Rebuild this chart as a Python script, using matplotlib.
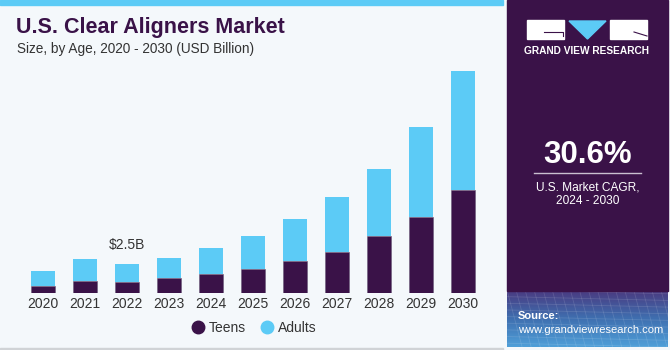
import matplotlib
matplotlib.use("Agg")
import matplotlib.pyplot as plt
from matplotlib.patches import Rectangle, Polygon
from matplotlib.colors import LinearSegmentedColormap
import numpy as np

plt.rcParams['font.family'] = ['Liberation Sans', 'DejaVu Sans']

years = ['2020', '2021', '2022', '2023', '2024', '2025', '2026', '2027', '2028', '2029', '2030']
teens = [0.65, 1.03, 0.95, 1.29, 1.64, 2.09, 2.78, 3.56, 4.94, 6.60, 8.90]
adults = [1.25, 1.90, 1.55, 1.78, 2.26, 2.85, 3.60, 4.72, 5.80, 7.71, 10.26]
label_year = '2022'
label_text = '$2.5B'

PURPLE = '#3a1248'
BLUE = '#5ccbf6'
BG = '#f4f8fb'
W, H = 670, 350


def fx(px):
    return px / W


def fy(py):
    return 1 - py / H


fig = plt.figure(figsize=(6.7, 3.5), dpi=100)
fig.patch.set_facecolor(BG)

# top accent line + bottom border of the left panel
fig.patches.append(Rectangle((0, fy(5)), fx(503), 5 / H, transform=fig.transFigure,
                             color=BLUE, zorder=0))
fig.patches.append(Rectangle((0, 0), fx(503), 2 / H, transform=fig.transFigure,
                             color='#d0d3d6', zorder=0))

# right panel
fig.patches.append(Rectangle((fx(507), fy(291)), fx(161), 291 / H,
                             transform=fig.transFigure, color=PURPLE, zorder=0))

# source area gradient with a faint grid
src = fig.add_axes([fx(507), fy(347), fx(161), (347 - 290) / H])
grad = np.linspace(0, 1, 60)[:, None] * np.ones((1, 160))
cmap = LinearSegmentedColormap.from_list('src', ['#4a3a80', '#3f6fb0', '#4f9fd8'])
src.imshow(grad, aspect='auto', cmap=cmap, extent=[0, 160, 60, 0])
for gx in np.arange(0, 170, 9):
    src.plot([gx, gx + 15], [0, 60], color='white', alpha=0.12, lw=0.6)
for gy in np.arange(0, 60, 7):
    src.plot([0, 160], [gy, gy + 4], color='white', alpha=0.12, lw=0.6)
src.set_xlim(0, 160)
src.set_ylim(60, 0)
src.axis('off')

# logo
fig.patches.append(Rectangle((fx(527), fy(39)), fx(37), 19 / H, transform=fig.transFigure,
                             color='white', zorder=2))
fig.patches.append(Rectangle((fx(610), fy(39)), fx(37), 19 / H, transform=fig.transFigure,
                             color='white', zorder=2))
fig.patches.append(Polygon([(fx(569), fy(21)), (fx(606), fy(21)), (fx(587.5), fy(39))],
                           closed=True, transform=fig.transFigure, color=BLUE, zorder=2))
fig.lines.append(plt.Line2D([fx(544), fx(563), fx(563)], [fy(32), fy(32), fy(36)],
                            transform=fig.transFigure, color=PURPLE, lw=0.8, zorder=3))
fig.lines.append(plt.Line2D([fx(634), fx(647)], [fy(32), fy(36)],
                            transform=fig.transFigure, color=PURPLE, lw=0.8, zorder=3))
fig.text(fx(587), fy(51), 'GRAND VIEW RESEARCH', color='white', fontsize=7.3,
         fontweight='bold', ha='center', va='center')

# CAGR
fig.text(fx(588), fy(155), '30.6%', color='white', fontsize=22.5, fontweight='bold',
         ha='center', va='center')
fig.lines.append(plt.Line2D([fx(534), fx(641)], [fy(173), fy(173)],
                            transform=fig.transFigure, color='#c9bfd0', lw=1))
fig.text(fx(588), fy(187), 'U.S. Market CAGR,', color='white', fontsize=8.6,
         ha='center', va='center')
fig.text(fx(588), fy(201), '2024 - 2030', color='white', fontsize=8.6,
         ha='center', va='center')

fig.text(fx(518), fy(316), 'Source:', color='white', fontsize=8, fontweight='bold',
         ha='left', va='center')
fig.text(fx(518), fy(330), 'www.grandviewresearch.com', color='white', fontsize=8,
         ha='left', va='center')

# titles
fig.text(fx(16), fy(28), 'U.S. Clear Aligners Market', color=PURPLE, fontsize=15.5,
         fontweight='bold', ha='left', va='center')
fig.text(fx(17), fy(49), 'Size, by Age, 2020 - 2030 (USD Billion)', color='#333333',
         fontsize=9.8, ha='left', va='center')

# bar chart
ymax = 20.0
ax = fig.add_axes([fx(21.7), fy(293.3), fx(462), (ymax / 0.0862) / H])
ax.set_facecolor('none')
x = np.arange(len(years))
ax.bar(x, teens, width=0.57, color=PURPLE, edgecolor='#6a5a78', linewidth=0.4,
       label='Teens', zorder=2)
ax.bar(x, adults, width=0.57, bottom=teens, color=BLUE, label='Adults', zorder=2)
ax.set_xlim(-0.5, len(years) - 0.5)
ax.set_ylim(0, ymax)
ax.set_xticks(x)
ax.set_xticklabels(years, fontsize=10, color='#333333')
ax.tick_params(axis='x', length=0, pad=3)
ax.set_yticks([])
for s in ax.spines.values():
    s.set_visible(False)

i = years.index(label_year)
ax.annotate(label_text, (i, teens[i] + adults[i]), xytext=(0, 9),
            textcoords='offset points', ha='center', va='bottom', fontsize=10,
            color='#333333')

leg = fig.legend(handles=[plt.Line2D([], [], marker='o', ls='', color=PURPLE, markersize=9),
                          plt.Line2D([], [], marker='o', ls='', color=BLUE, markersize=9)],
                 labels=['Teens', 'Adults'], loc='center', ncol=2,
                 bbox_to_anchor=(fx(254), fy(328)), frameon=False, fontsize=10,
                 handletextpad=0.3, columnspacing=1.0, handlelength=1.0)
for t in leg.get_texts():
    t.set_color('#333333')

fig.savefig('out.png', dpi=100, facecolor=fig.get_facecolor())
